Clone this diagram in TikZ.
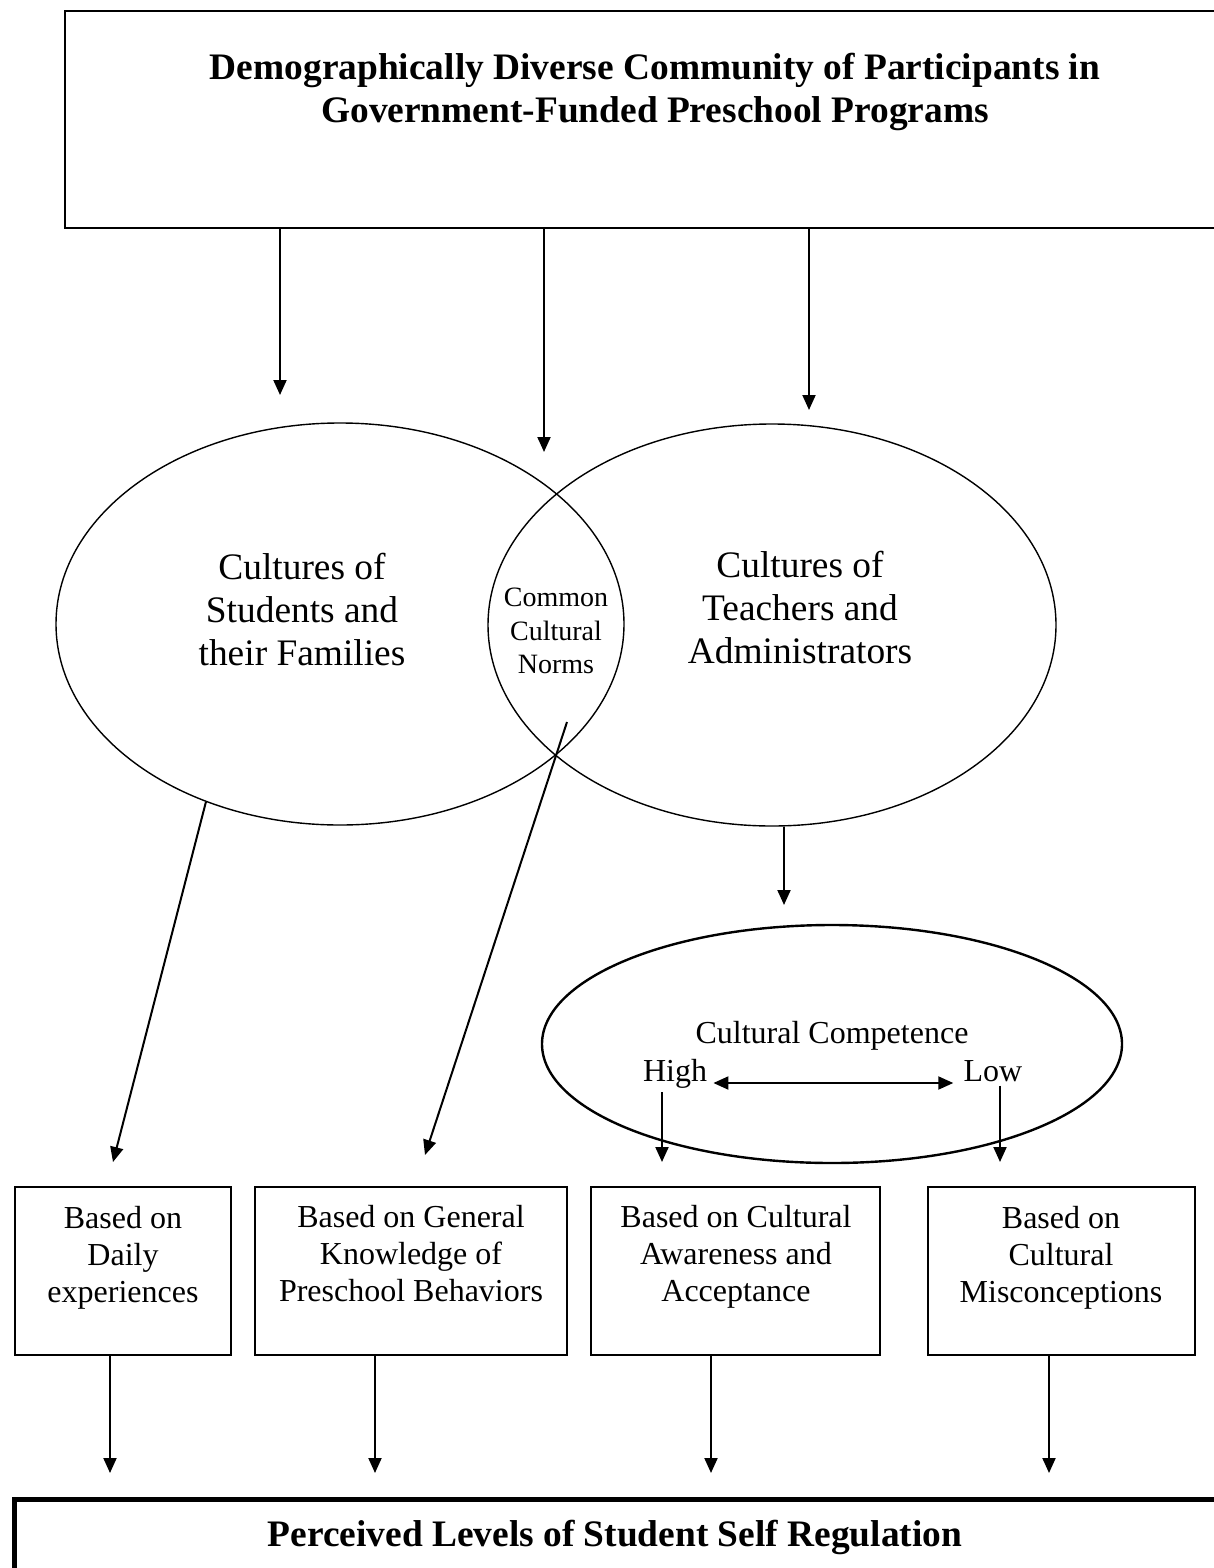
\documentclass[tikz,border=0pt]{standalone}
\usepackage{fontspec}
\setmainfont{Liberation Serif}
\usetikzlibrary{arrows.meta,shapes.geometric,positioning}

\begin{document}
\begin{tikzpicture}[x=0.5pt,y=-0.5pt,
  arr/.style={-{Triangle[length=7.5pt,width=6.5pt]}, line width=1pt},
  dblarr/.style={{Triangle[length=7.5pt,width=6.5pt]}-{Triangle[length=7.5pt,width=6.5pt]}, line width=1pt},
  culture/.style={draw, ellipse, line width=0.7pt, minimum width=284pt, minimum height=201pt, inner sep=0pt},
  basisbox/.style={draw, line width=0.9pt, minimum height=84pt, inner sep=0pt},
  basistext/.style={align=center, font=\fontsize{16pt}{18.5pt}\selectfont},
  bigtext/.style={align=center, font=\fontsize{18.7pt}{21.5pt}\selectfont},
  headtext/.style={align=center, font=\fontsize{18.7pt}{21.5pt}\selectfont\bfseries},
]
\useasboundingbox (0,0) rectangle (1214,1568);

% top box
\node[draw, line width=0.9pt, minimum width=577.5pt, minimum height=108.5pt, inner sep=0pt] (community) at (642.5,119.5) {};
\node[headtext] (communitytext) at (655,91.5) {Demographically Diverse Community of Participants in\\Government-Funded Preschool Programs};

% the two cultures
\node[culture] (students) at (340,624) {};
\node[culture] (teachers) at (772,625) {};
\node[bigtext] (studentstext) at (302,610) {Cultures of\\Students and\\their Families};
\node[bigtext] (teacherstext) at (800,608) {Cultures of\\Teachers and\\Administrators};
\node[align=center, font=\fontsize{14pt}{16.75pt}\selectfont] (norms) at (556,631) {Common\\Cultural\\Norms};

\coordinate (s1) at (280,395);
\coordinate (s2) at (544,452);
\coordinate (s3) at (809,410);
\draw[arr] (s1 |- community.south) -- (s1);
\draw[arr] (s2 |- community.south) -- (s2);
\draw[arr] (s3 |- community.south) -- (s3);

% cultural competence
\node[draw, ellipse, line width=1.2pt, minimum width=290pt, minimum height=119pt, inner sep=0pt] (competence) at (832,1044) {};
\node[basistext] (competencetext) at (832,1036) {Cultural Competence};
\node[basistext, inner sep=2pt, anchor=base] (high) at (675,1081) {High};
\node[basistext, inner sep=2pt, anchor=base] (low) at (993,1081) {Low};
\draw[dblarr] ([yshift=-1pt,xshift=1pt]high.base east) -- ([yshift=-1pt,xshift=-3pt]low.base west);

\coordinate (comptop) at (784,905);
\draw[arr] (teachers.south -| comptop) -- (comptop);

% basis boxes
\node[basisbox, minimum width=108pt] (daily) at (123,1271) {};
\node[basisbox, minimum width=156pt] (general) at (411,1271) {};
\node[basisbox, minimum width=144.5pt] (awareness) at (735.5,1271) {};
\node[basisbox, minimum width=133.5pt] (misconc) at (1061.5,1271) {};
\node[basistext] (dailytext) at (123,1258) {Based on\\Daily\\experiences};
\node[basistext] (generaltext) at (411,1254) {Based on General\\Knowledge of\\Preschool Behaviors};
\node[basistext] (awarenesstext) at (736,1257) {Based on Cultural\\Awareness and\\Acceptance};
\node[basistext] (misconctext) at (1061,1258) {Based on\\Cultural\\Misconceptions};

\coordinate (normsfoot) at (567,722);
\coordinate (dailytop) at (113,1162);
\coordinate (generaltop) at (425,1155);
\coordinate (hightip) at (662,1162);
\coordinate (lowtip) at (1000,1162);
\draw[arr] (students.233) -- (dailytop);
\draw[arr] (normsfoot) -- (generaltop);
\draw[arr] ([xshift=-6.5pt]high.south) -- (hightip);
\draw[arr] ([xshift=3.5pt]low.south) -- (lowtip);

% bottom box
\node[draw, line width=2.5pt, minimum width=608pt, minimum height=60.5pt, inner sep=0pt] (regulation) at (622,1560) {};
\node[headtext] (regulationtext) at (615,1537) {Perceived Levels of Student Self Regulation};

\coordinate (r1) at (110,1473);
\coordinate (r2) at (375,1473);
\coordinate (r3) at (711,1473);
\coordinate (r4) at (1049,1473);
\draw[arr] (r1 |- daily.south) -- (r1);
\draw[arr] (r2 |- general.south) -- (r2);
\draw[arr] (r3 |- awareness.south) -- (r3);
\draw[arr] (r4 |- misconc.south) -- (r4);
\end{tikzpicture}
\end{document}
